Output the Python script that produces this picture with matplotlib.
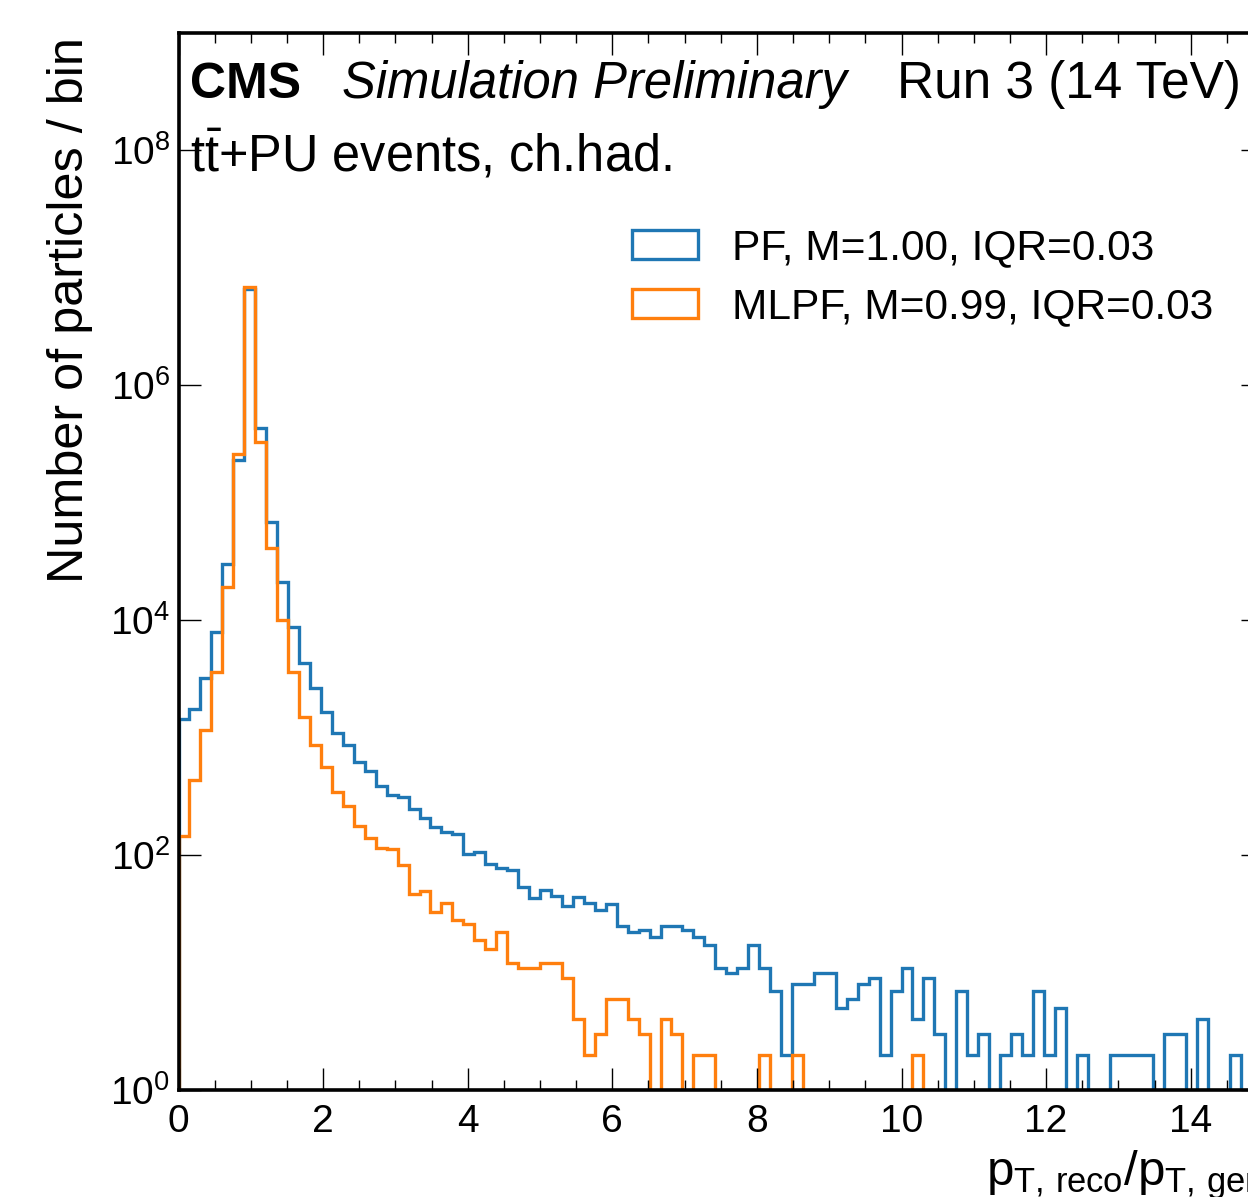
import numpy as np
import matplotlib
matplotlib.use("Agg")
import matplotlib.pyplot as plt
from matplotlib.ticker import FixedLocator, MultipleLocator, NullLocator
from matplotlib.patches import Patch

# ---------------- data ----------------
bin_edges = np.linspace(0, 15, 100)

pf_counts = [
    1450, 1760, 3200, 7900, 30000, 230000, 6600000, 430000, 68000, 21000,
    8700, 4300, 2650, 1670, 1100, 860, 625, 520, 390, 325,
    315, 247, 208, 175, 156, 150, 102, 106, 84, 77,
    75, 54, 43, 50, 45, 37, 44, 39, 34, 38,
    25, 22, 23, 20, 25, 25, 23, 20, 17, 11,
    10, 11, 17, 11, 7, 2, 8, 8, 10, 10,
    5, 6, 8, 9, 2, 7, 11, 4, 9, 3,
    0, 7, 2, 3, 0, 2, 3, 2, 7, 2,
    5, 0, 2, 0, 0, 2, 2, 2, 2, 0,
    3, 3, 0, 4, 0, 0, 2, 0, 0,
]

mlpf_counts = [
    146, 437, 1170, 3600, 19000, 260000, 6900000, 330000, 41000, 10000,
    3600, 1500, 860, 565, 348, 263, 178, 141, 115, 113,
    83, 47, 49, 33, 39, 28, 26, 19, 16, 22,
    12, 11, 11, 12, 12, 9, 4, 2, 3, 6,
    6, 4, 3, 0, 4, 3, 0, 2, 2, 0,
    0, 0, 0, 2, 0, 0, 2, 0, 0, 0,
    0, 0, 0, 0, 0, 0, 0, 2, 0, 0,
    0, 0, 0, 0, 0, 0, 0, 0, 0, 0,
    0, 0, 0, 0, 0, 0, 0, 0, 0, 0,
    0, 0, 0, 0, 0, 0, 0, 0, 0,
]

labels = ["PF, M=1.00, IQR=0.03", "MLPF, M=0.99, IQR=0.03"]
colors = ["#1f77b4", "#ff7f0e"]

# ---------------- style ----------------
FONT = "Liberation Sans"
plt.rcParams["font.family"] = [FONT, "DejaVu Sans"]
plt.rcParams["mathtext.fontset"] = "custom"
plt.rcParams["mathtext.rm"] = FONT
plt.rcParams["mathtext.it"] = FONT + ":italic"
plt.rcParams["mathtext.bf"] = FONT + ":bold"
plt.rcParams["mathtext.default"] = "regular"

W, H = 1248, 1197
fig = plt.figure(figsize=(W / 100, H / 100), dpi=100)

# axes pixel box: left 178.5, right 1263 (beyond the figure edge), top 33, bottom 1090
left_px, right_px, top_px, bot_px = 178.5, 1263.0, 33.0, 1090.0
ax = fig.add_axes([left_px / W, (H - bot_px) / H,
                   (right_px - left_px) / W, (bot_px - top_px) / H])

LW = 2.4
ax.stairs(pf_counts, bin_edges, color=colors[0], linewidth=LW)
ax.stairs(mlpf_counts, bin_edges, color=colors[1], linewidth=LW)

ax.set_yscale("log")
ax.set_xlim(0, 15)
ax.set_ylim(1, 1e9)

ax.yaxis.set_major_locator(FixedLocator([1e0, 1e2, 1e4, 1e6, 1e8]))
ax.yaxis.set_minor_locator(NullLocator())
ax.xaxis.set_major_locator(MultipleLocator(2))
ax.xaxis.set_minor_locator(MultipleLocator(0.5))

for s in ax.spines.values():
    s.set_linewidth(2.6)

ax.tick_params(which="both", direction="in", top=True, right=True)
ax.tick_params(which="major", length=16, width=1.0, labelsize=28)
ax.tick_params(which="minor", length=7, width=1.0)
ax.tick_params(axis="x", which="major", pad=10)
ax.tick_params(axis="y", which="major", pad=6)

# axis labels
ax.text(-0.100, 1 - 4 / 1057, "Number of particles / bin", transform=ax.transAxes,
        rotation=90, ha="center", va="top", fontsize=36.3)
ax.text(1.0, -0.0899, r"$p_{T,\,reco}/p_{T,\,gen}$", transform=ax.transAxes,
        ha="right", va="baseline", fontsize=35.5)

# header texts
ax.text(0.0106, 0.9385, "CMS", transform=ax.transAxes, ha="left", va="baseline",
        fontsize=36, fontweight="bold")
ax.text(0.151, 0.9385, "Simulation Preliminary", transform=ax.transAxes, ha="left",
        va="baseline", fontsize=36.5, fontstyle="italic")
ax.text(0.9797, 0.9385, "Run 3 (14 TeV)", transform=ax.transAxes, ha="right",
        va="baseline", fontsize=37)
ax.text(0.0106, 0.8685, r"$t\bar{t}$+PU events, ch.had.", transform=ax.transAxes,
        ha="left", va="baseline", fontsize=36.4)

handles = [Patch(facecolor="none", edgecolor=c, linewidth=LW) for c in colors]
leg = ax.legend(handles, labels, loc="upper left", bbox_to_anchor=(0.418, 0.815),
                frameon=False, fontsize=30.6, borderpad=0, borderaxespad=0,
                handlelength=1.56, handleheight=0.67, handletextpad=0.8,
                labelspacing=0.44)

fig.savefig("out.png", dpi=100)
